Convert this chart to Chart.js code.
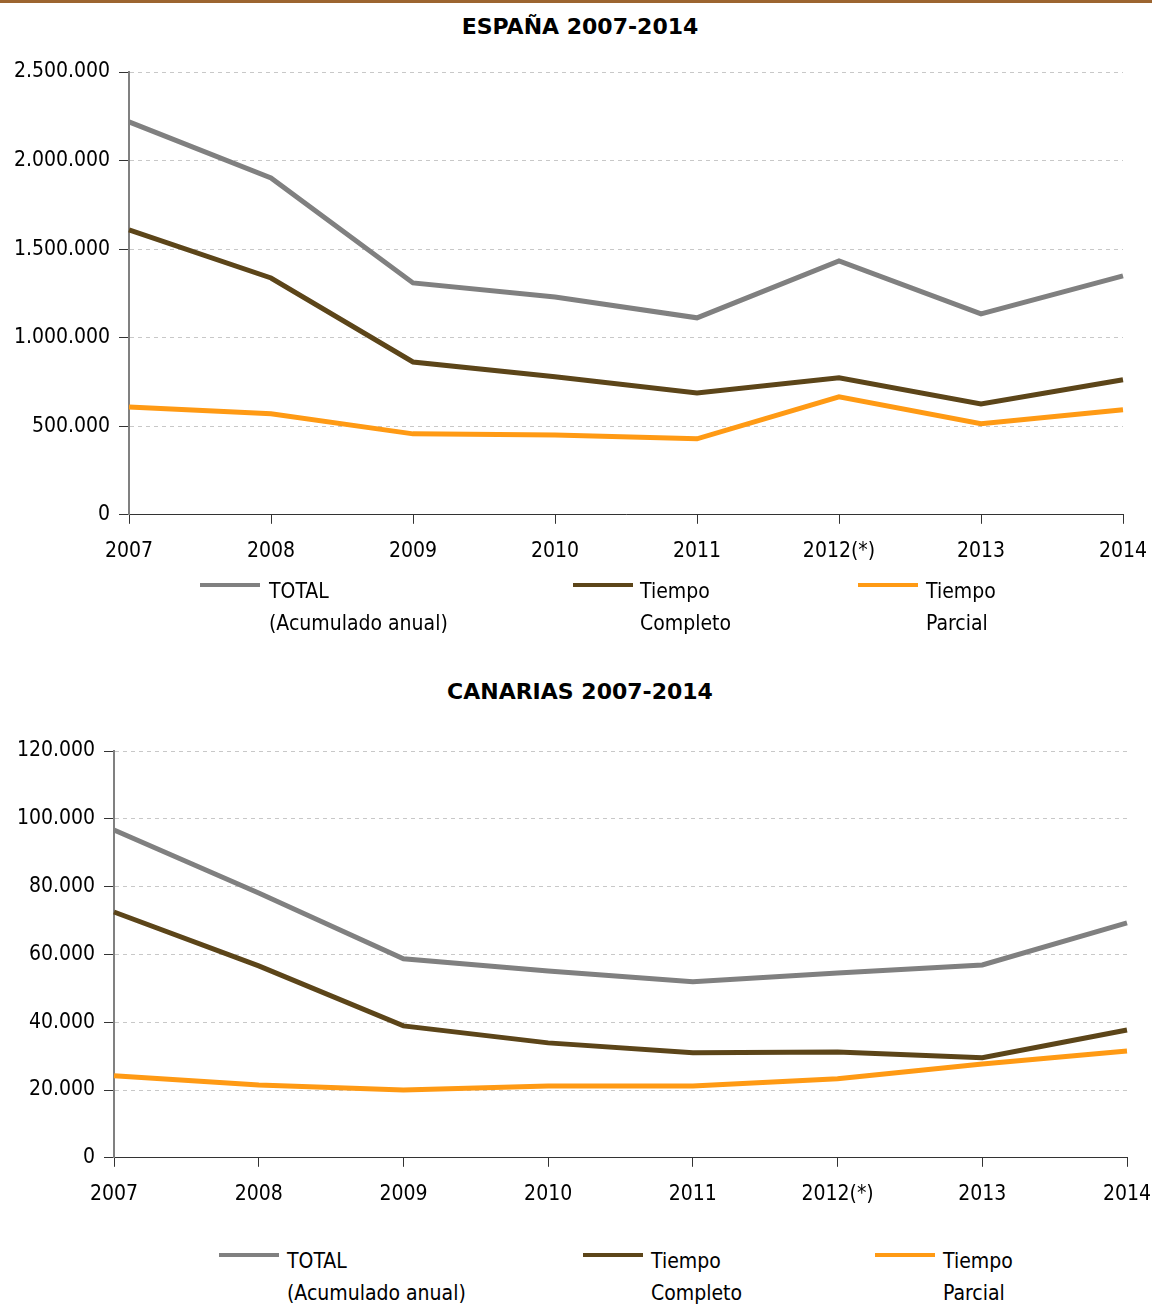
<!DOCTYPE html>
<html>
<head>
<meta charset="utf-8">
<script src="https://cdn.jsdelivr.net/npm/chart.js@4/dist/chart.umd.min.js"></script>
<style>
body { margin:0; background:#fff; font-family:'DejaVu Sans Condensed', 'DejaVu Sans', sans-serif; }
#page { position:relative; width:1152px; height:1304px; overflow:hidden; }
#topline { position:absolute; left:0; top:0; width:1152px; height:3px; background:#9c6530; }
canvas { position:absolute; left:0; }
.ttl { position:absolute; left:0; width:1160px; text-align:center; font-family:'DejaVu Sans', sans-serif;
       font-weight:bold; font-size:22px; line-height:26px; color:#000; }
.leg { position:absolute; font-size:21px; line-height:32px; color:#000; }
.sw { position:absolute; width:60px; height:4px; }
</style>
</head>
<body>
<div id="page">
  <div id="topline"></div>
  <div class="ttl" style="top:14px">ESPAÑA 2007-2014</div>
  <div class="ttl" style="top:679px">CANARIAS 2007-2014</div>
  <canvas id="c1" width="1152" height="588" style="top:3px"></canvas>
  <canvas id="c2" width="1152" height="584" style="top:650px"></canvas>
</div>
<script>
var years = ['2007', '2008', '2009', '2010', '2011', '2012(*)', '2013', '2014'];
var seriesNames = [['TOTAL', '(Acumulado anual)'], ['Tiempo', 'Completo'], ['Tiempo', 'Parcial']];
var seriesColors = ['#808080', '#5c4519', '#ff9a14'];

// España
var espTotal    = [2218000, 1902000, 1309000, 1230000, 1112000, 1433000, 1134000, 1349000];
var espCompleto = [1608000, 1337000, 863000, 779000, 688000, 773000, 626000, 762000];
var espParcial  = [609000, 570000, 457000, 451000, 429000, 666000, 514000, 593000];

// Canarias
var canTotal    = [96700, 78100, 58700, 55100, 51900, 54500, 56900, 69300];
var canCompleto = [72500, 56600, 38900, 33900, 31000, 31200, 29500, 37700];
var canParcial  = [24200, 21500, 20000, 21200, 21200, 23300, 27700, 31500];

var tickFont = { family: "'DejaVu Sans Condensed', 'DejaVu Sans'", size: 21 };

function fmt(v) {
    return String(v).replace(/\B(?=(\d{3})+(?!\d))/g, '.');
}

function makeChart(id, series, yMax, yStep, pad) {
    var ds = [];
    for (var i = 0; i < series.length; i++) {
        ds.push({
            label: seriesNames[i].join(' '),
            data: series[i],
            borderColor: seriesColors[i],
            backgroundColor: seriesColors[i],
            borderWidth: 5,
            pointRadius: 0,
            tension: 0,
            fill: false
        });
    }
    ds[0].order = 2; ds[1].order = 1; ds[2].order = 0;
    return new Chart(document.getElementById(id), {
        type: 'line',
        data: { labels: years, datasets: ds },
        options: {
            responsive: false,
            animation: false,
            layout: { padding: { left: 0, right: pad.right, top: pad.top, bottom: 12 } },
            plugins: {
                legend: { display: false },
                tooltip: { enabled: false },
                title: { display: false }
            },
            scales: {
                x: {
                    offset: false,
                    afterFit: function (s) { s.paddingLeft = 0; s.paddingRight = 0; },
                    grid: { drawOnChartArea: false, drawTicks: true, tickLength: 9, tickColor: '#333', tickWidth: 1 },
                    border: { color: '#333', width: 1 },
                    ticks: { color: '#000', padding: 15, maxRotation: 0, autoSkip: false, font: tickFont }
                },
                y: {
                    min: 0, max: yMax,
                    afterFit: function (s) { s.width = pad.axisX; },
                    grid: { color: '#c8c8c8', lineWidth: 1, tickLength: 10, tickColor: '#333', tickWidth: 1 },
                    border: { color: '#808080', width: 2, dash: [4, 4] },
                    ticks: { stepSize: yStep, color: '#000', padding: 9, font: tickFont,
                             callback: function (v) { return fmt(v); } }
                }
            }
        }
    });
}

function makeLegend(top, lefts, textLefts) {
    var page = document.getElementById('page');
    for (var i = 0; i < seriesNames.length; i++) {
        var sw = document.createElement('div');
        sw.className = 'sw';
        sw.style.left = lefts[i] + 'px';
        sw.style.top = (top + 8) + 'px';
        sw.style.background = seriesColors[i];
        page.appendChild(sw);
        var t = document.createElement('div');
        t.className = 'leg';
        t.style.left = textLefts[i] + 'px';
        t.style.top = top + 'px';
        t.innerHTML = seriesNames[i][0] + '<br>' + seriesNames[i][1];
        page.appendChild(t);
    }
}

makeChart('c1', [espTotal, espCompleto, espParcial], 2500000, 500000,
          { axisX: 129, right: 29, top: 69 });
makeChart('c2', [canTotal, canCompleto, canParcial], 120000, 20000,
          { axisX: 114, right: 25, top: 101 });

makeLegend(575, [200, 573, 858], [269, 640, 926]);
makeLegend(1245, [219, 583, 875], [287, 651, 943]);
</script>
</body>
</html>
